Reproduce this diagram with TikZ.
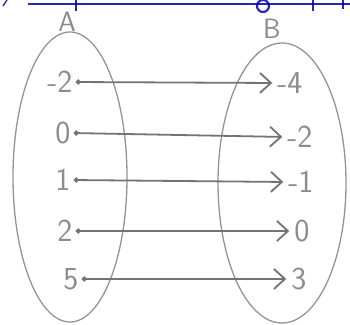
\documentclass[tikz,border=0pt]{standalone}
\usepackage{tikz}
\usetikzlibrary{arrows.meta}

\begin{document}
\begin{tikzpicture}[
    x=1pt, y=-1pt,
    elem/.style={inner sep=1pt,text=black!45,font=\sffamily\fontsize{32}{32}\selectfont},
    setname/.style={elem,font=\sffamily\fontsize{28}{28}\selectfont},
    setline/.style={black!42,line width=1.3pt},
    maps/.style={{Circle[length=5pt]}-{Straight Barb[length=11pt,width=20pt,line width=1.8pt]},
                 black!55,line width=1.8pt,shorten <=2pt,shorten >=4pt},
    ruled/.style={blue!70!black,opacity=0.85,line width=2.2pt},
  ]
  \useasboundingbox (0,0) rectangle (350,324);

  % --- notebook rule at the top ---
  \draw[ruled] (28,4) -- (350,4);
  \draw[ruled] (76,0) -- (76,11);
  \draw[ruled] (263,6) circle (6);
  \draw[ruled] (313,0) -- (313,11);
  \draw[ruled] (343,0) -- (343,9);
  \draw[ruled,line width=1.3pt] (3,6) -- (7,0);

  % --- the two sets ---
  \draw[setline] (70,177) ellipse [x radius=57, y radius=145];
  \draw[setline] (282,183) ellipse [x radius=64, y radius=140];
  \node[setname] (nA) at (67,22) {A};
  \node[setname] (nB) at (272,29) {B};

  % --- domain A ---
  \node[elem] (a1) at (60,82)  {-2};
  \node[elem] (a2) at (63,133) {0};
  \node[elem] (a3) at (63,180) {1};
  \node[elem] (a4) at (65,231) {2};
  \node[elem] (a5) at (71,279) {5};

  % --- codomain B ---
  \node[elem] (b1) at (290,83)  {-4};
  \node[elem] (b2) at (300,137) {-2};
  \node[elem] (b3) at (301,182) {-1};
  \node[elem] (b4) at (302,231) {0};
  \node[elem] (b5) at (299,279) {3};

  % --- the mapping ---
  \foreach \i in {1,...,5} {
    \draw[maps] (a\i.east) -- (b\i.west);
  }

\end{tikzpicture}
\end{document}
